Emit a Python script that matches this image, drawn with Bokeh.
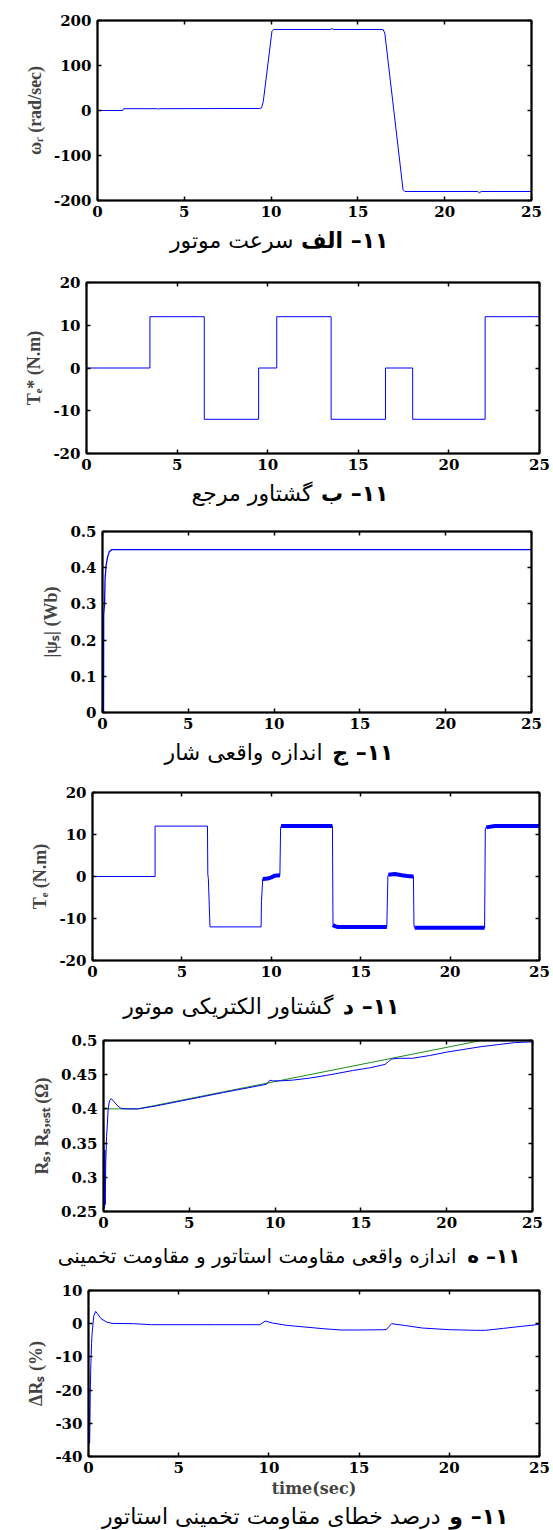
import numpy as np
from bokeh.plotting import figure
from bokeh.models import LinearAxis, FixedTicker, Range1d
from bokeh.layouts import column
from bokeh.core.properties import value
from bokeh.embed import file_html
from bokeh.resources import INLINE

# ---------------- data ----------------
x_ticks = [0, 5, 10, 15, 20, 25]

# (a) rotor speed
speed_t = [0, 1.45, 1.5, 3.45, 3.5, 3.55, 9.35, 9.45, 9.55, 10.05, 10.15, 13.4, 13.5, 13.6,
           16.45, 16.55, 17.6, 17.7, 21.9, 22.0, 22.1, 25]
speed_v = [0, 0, 4, 4, 3, 4, 4.5, 6, 20, 176, 180, 180, 182, 180,
           180, 172, -176, -180, -180, -183, -180, -180]
speed_yticks = [-200, -100, 0, 100, 200]
speed_ylabels = ["-200", "-100", "0", "100", "200"]

# (b) reference torque (step levels between edges)
tref_edges = [0, 3.5, 6.5, 9.5, 10.5, 13.5, 16.5, 18, 22, 25]
tref_levels = [0, 12, -12, 0, 12, -12, 0, -12, 12]
torque_yticks = [-20, -10, 0, 10, 20]
torque_ylabels = ["-20", "-10", "0", "10", "20"]

# (c) stator flux magnitude
psi_t = [0, 0.06, 0.07, 0.12, 0.15, 0.22, 0.3, 0.4, 0.55, 25]
psi_v = [0, 0.0, 0.27, 0.30, 0.37, 0.41, 0.43, 0.445, 0.45, 0.45]
psi_yticks = [0, 0.1, 0.2, 0.3, 0.4, 0.5]
psi_ylabels = ["0", "0.1", "0.2", "0.3", "0.4", "0.5"]

# (d) electromagnetic torque
te_t = [0, 3.5, 3.5, 6.43, 6.45, 6.48, 6.57, 9.43, 9.45, 9.52, 9.55, 9.8, 10.0, 10.2, 10.48,
        10.52, 10.55, 13.42, 13.45, 13.55, 13.7, 16.46, 16.52, 16.55, 16.9, 17.3, 17.6, 17.95,
        17.98, 18.02, 21.93, 21.97, 22.02, 22.5, 25]
te_v = [0, 0, 12, 12, 0.5, -0.5, -12, -12, -6, -0.6, -0.6, -0.5, -0.2, 0.2, 0.3,
        11.5, 12, 12, -11.5, -11.8, -12, -12, 0, 0.4, 0.6, 0.3, 0.1, 0.0,
        -11.8, -12.2, -12.2, 11.5, 11.7, 12, 12]
ripple_start = [9.52, 10.55, 13.45, 16.55, 18.02, 22.02]
ripple_end = [10.48, 13.42, 16.46, 17.95, 21.93, 25]

# (e) actual and estimated stator resistance
rs_t = [0, 2, 22, 25]
rs_v = [0.40, 0.40, 0.50, 0.50]
rse_t = [0, 0.04, 0.06, 0.08, 0.1, 0.13, 0.18, 0.22, 0.27, 0.35, 0.45, 0.6, 0.8, 1.0, 1.3, 2.0,
         3.0, 5.0, 7.0, 9.5, 9.7, 9.85, 10.3, 11, 12, 13, 14.5, 15.5, 16.4, 16.6, 16.8, 17.2,
         18.0, 19.0, 20.0, 21.0, 22.0, 23.0, 24.0, 25.0]
rse_v = [0.40, 0.30, 0.255, 0.34, 0.26, 0.32, 0.36, 0.375, 0.40, 0.412, 0.415, 0.411, 0.405,
         0.401, 0.40, 0.40, 0.404, 0.414, 0.424, 0.436, 0.442, 0.441, 0.441, 0.442, 0.445,
         0.449, 0.456, 0.460, 0.465, 0.469, 0.473, 0.474, 0.474, 0.478, 0.483, 0.487, 0.491,
         0.494, 0.497, 0.498]
rs_yticks = [0.25, 0.3, 0.35, 0.4, 0.45, 0.5]
rs_ylabels = ["0.25", "0.3", "0.35", "0.4", "0.45", "0.5"]

# (f) estimation error (%)
err_t = [0, 0.03, 0.06, 0.08, 0.1, 0.13, 0.17, 0.2, 0.25, 0.3, 0.4, 0.5, 0.7, 1.0, 1.3, 2.5,
         3.5, 7, 9.5, 9.8, 10.2, 11, 12, 13, 14, 15, 16.5, 16.8, 17.5, 18.5, 20, 21.5, 22.0,
         23, 24, 25]
err_v = [-13, -25, -36, -30, -20, -12, -6, -3, 0, 2.5, 3.7, 3.0, 1.5, 0.5, 0.1, 0.0,
         -0.3, -0.3, -0.3, 0.8, 0.2, -0.5, -1.0, -1.5, -1.9, -1.9, -1.8, 0.0, -0.5, -1.3,
         -1.8, -2.0, -2.0, -1.4, -0.8, -0.2]
err_yticks = [-40, -30, -20, -10, 0, 10]
err_ylabels = ["-40", "-30", "-20", "-10", "0", "10"]

captions_head = ["۱۱– الف", "۱۱– ب", "۱۱– ج", "۱۱– د", "۱۱– ه", "۱۱– و"]
captions_rest = ["سرعت موتور", "گشتاور مرجع", "اندازه واقعی شار", "گشتاور الکتریکی موتور",
                 "اندازه واقعی مقاومت استاتور و مقاومت تخمینی",
                 "درصد خطای مقاومت تخمینی استاتور"]

# ---------------- styling ----------------
TICK_FONT = "DejaVu Serif"
LABEL_FONT = "Liberation Serif"
CAP_FONT = "DejaVu Sans"
BLUE = "#0000ff"
GREEN = "#1a8c1a"
RLM = "\u200f"
RIGHT_EDGE = 553  # page x of the right canvas edge (page origin at 0)


def style_axis(ax, ticks, labels=None, show_labels=True):
    ax.ticker = FixedTicker(ticks=ticks)
    ax.major_tick_in = 4
    ax.major_tick_out = 0
    ax.minor_tick_in = 0
    ax.minor_tick_out = 0
    ax.major_tick_line_color = "black"
    ax.major_tick_line_width = 1.5
    ax.axis_line_color = "black"
    ax.axis_line_width = 2
    if show_labels:
        ax.major_label_text_font = TICK_FONT
        ax.major_label_text_font_style = "bold"
        ax.major_label_text_font_size = "15px"
        ax.major_label_text_color = "black"
        ax.major_label_standoff = 6
        if labels is not None:
            ax.major_label_overrides = {t: l for t, l in zip(ticks, labels)}
    else:
        ax.major_label_text_font_size = "1px"
        ax.major_label_text_color = None
        ax.major_label_standoff = 0


def make_panel(frame_left, frame_right, border_top, frame_h, border_bottom, yr, yticks, ylabels,
               ylabel, xlabel=None):
    p = figure(frame_width=frame_right - frame_left, frame_height=frame_h,
               x_range=Range1d(0, 25), y_range=Range1d(*yr),
               output_backend="svg", toolbar_location=None, frame_align=False,
               min_border_left=frame_left, min_border_right=RIGHT_EDGE - frame_right,
               min_border_top=border_top, min_border_bottom=border_bottom)
    p.xgrid.visible = False
    p.ygrid.visible = False
    p.outline_line_color = "black"
    p.outline_line_width = 1.5
    p.background_fill_color = "white"
    p.border_fill_color = "white"
    style_axis(p.xaxis[0], x_ticks)
    style_axis(p.yaxis[0], yticks, ylabels)
    p.xaxis[0].major_label_standoff = 5
    p.yaxis[0].axis_label = ylabel
    p.yaxis[0].axis_label_text_font = LABEL_FONT
    p.yaxis[0].axis_label_text_font_style = "bold"
    p.yaxis[0].axis_label_text_font_size = "18px"
    p.yaxis[0].axis_label_standoff = 6
    if xlabel:
        p.xaxis[0].axis_label = xlabel
        p.xaxis[0].axis_label_text_font = TICK_FONT
        p.xaxis[0].axis_label_text_font_style = "bold"
        p.xaxis[0].axis_label_text_font_size = "16px"
        p.xaxis[0].axis_label_standoff = 3
    top = LinearAxis()
    style_axis(top, x_ticks, show_labels=False)
    p.add_layout(top, "above")
    right = LinearAxis()
    style_axis(right, yticks, show_labels=False)
    p.add_layout(right, "right")
    return p


def make_caption(height, idx, head_right, rest_right, cy, size="22px"):
    w = RIGHT_EDGE
    c = figure(width=w, height=height, x_range=Range1d(0, w), y_range=Range1d(height, 0),
               output_backend="svg", toolbar_location=None, frame_align=False,
               x_axis_location=None, y_axis_location=None,
               min_border=0, min_border_left=0, min_border_right=0,
               min_border_top=0, min_border_bottom=0)
    c.xgrid.visible = False
    c.ygrid.visible = False
    c.outline_line_color = None
    c.background_fill_color = "white"
    c.border_fill_color = "white"
    c.text(x=[head_right], y=[cy], text=[RLM + captions_head[idx]],
           text_align="right", text_baseline="middle", text_font=value(CAP_FONT),
           text_font_size=size, text_font_style="bold", text_color="black")
    c.text(x=[rest_right], y=[cy], text=[RLM + captions_rest[idx]],
           text_align="right", text_baseline="middle", text_font=value(CAP_FONT),
           text_font_size=size, text_font_style="normal", text_color="black")
    return c


# (a)
p1 = make_panel(97, 531, 20, 180, 24, (-200, 200), speed_yticks, speed_ylabels, "ωᵣ (rad/sec)")
p1.line(speed_t, speed_v, line_color=BLUE, line_width=1.0)
c1 = make_caption(32, 0, 388, 293, 16)

# (b)
p2 = make_panel(86, 539, 26, 171, 24, (-20, 20), torque_yticks, torque_ylabels, "Tₑ* (N.m)")
step_x = np.repeat(tref_edges, 2)[1:-1]
step_y = np.repeat(tref_levels, 2)
p2.line(step_x, step_y, line_color=BLUE, line_width=1.0)
c2 = make_caption(33, 1, 388, 312, 16)

# (c)
p3 = make_panel(102, 531, 21, 181, 24, (0, 0.5), psi_yticks, psi_ylabels, "|ψₛ| (Wb)")
p3.line(psi_t, psi_v, line_color=BLUE, line_width=1.3)
c3 = make_caption(32, 2, 393, 322, 16)

# (d)
p4 = make_panel(92, 539, 24, 168, 24, (-20, 20), torque_yticks, torque_ylabels, "Tₑ (N.m)")
p4.line(te_t, te_v, line_color=BLUE, line_width=1.0)
te_ta = np.array(te_t)
te_va = np.array(te_v)
rip_xs, rip_ys = [], []
for a, b in zip(ripple_start, ripple_end):
    m = (te_ta >= a) & (te_ta <= b)
    rip_xs.append(list(te_ta[m]))
    rip_ys.append(list(te_va[m]))
p4.multi_line(rip_xs, rip_ys, line_color=BLUE, line_width=4)
c4 = make_caption(36, 3, 399, 333, 22)

# (e)
p5 = make_panel(103, 532, 20, 171, 24, (0.25, 0.5), rs_yticks, rs_ylabels, "Rₛ, Rₛ,ₑₛₜ (Ω)")
p5.line(rs_t, rs_v, line_color=GREEN, line_width=1.0)
p5.line(rse_t, rse_v, line_color=BLUE, line_width=1.0)
c5 = make_caption(35, 4, 520, 456, 20, size="20px")

# (f)
p6 = make_panel(88, 539, 20, 166, 44, (-40, 10), err_yticks, err_ylabels, "ΔRₛ (%)",
                xlabel="time(sec)")
p6.line(err_t, err_v, line_color=BLUE, line_width=1.0)
c6 = make_caption(30, 5, 508, 440, 16)

layout = column(p1, c1, p2, c2, p3, c3, p4, c4, p5, c5, p6, c6)
open("out.html", "w").write(file_html(layout, INLINE, title="Motor simulation results"))
